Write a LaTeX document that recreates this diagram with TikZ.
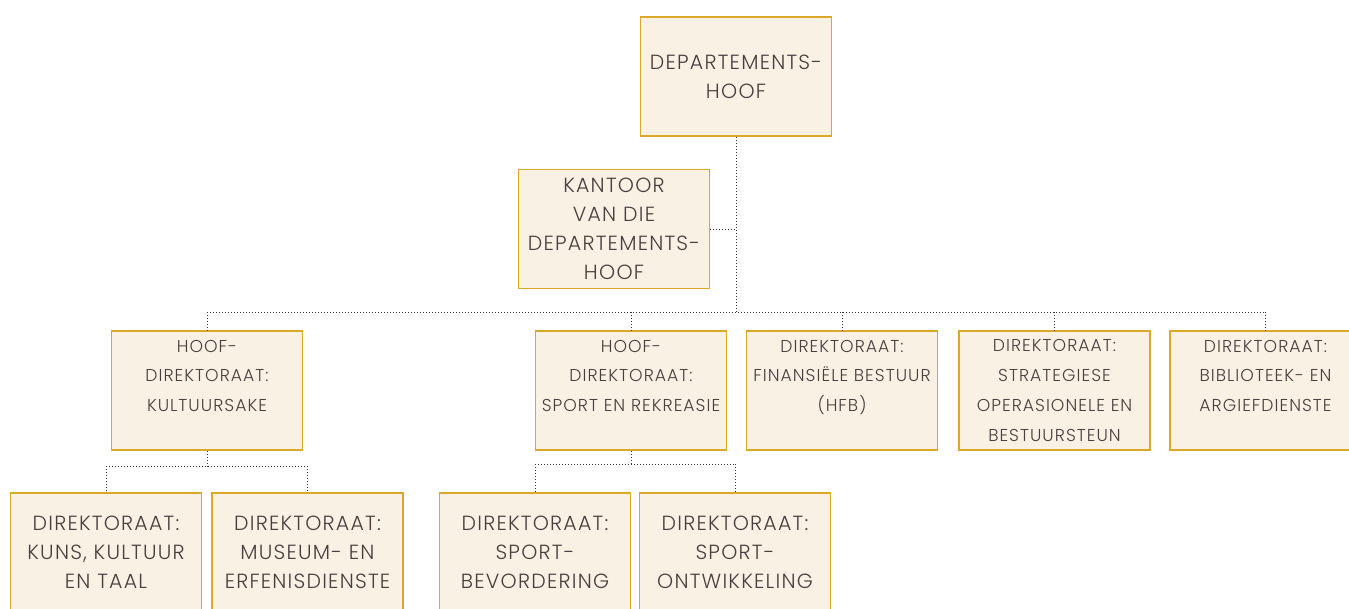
\documentclass[tikz,border=0pt]{standalone}
\usepackage{fontspec}
\setmainfont{Poppins}[UprightFont={* Light}, LetterSpace=6]
\definecolor{boxgold}{RGB}{220,168,40}
\definecolor{boxfill}{RGB}{249,241,227}
\definecolor{boxtext}{RGB}{72,64,64}
\tikzset{
	unit/.style={draw=boxgold, fill=boxfill, line width=1.5pt, text=boxtext, align=center,
		inner sep=0pt, minimum width=191pt, minimum height=119pt},
	bigunit/.style={unit, font=\fontsize{20.5}{29}\selectfont},
	smallunit/.style={unit, font=\fontsize{17.2}{29.7}\selectfont},
	link/.style={draw=black!80, dotted, line width=1pt},
}

\begin{document}
\begin{tikzpicture}[x=1pt, y=-1pt]
		\useasboundingbox (0,0) rectangle (1349,608);

		% Head of department
		\node [bigunit] (head) at (736,76.5) {DEPARTEMENTS-\\HOOF};
		\node [bigunit] (office) at (614,229) {KANTOOR\\VAN DIE\\DEPARTEMENTS-\\HOOF};

		% Chief directorates and directorates
		\node [smallunit] (kultuur) at (207,390.5) {HOOF-\\DIREKTORAAT:\\KULTUURSAKE\\\mbox{}};
		\node [smallunit] (sport) at (631,390.5) {HOOF-\\DIREKTORAAT:\\SPORT EN REKREASIE\\\mbox{}};
		\node [smallunit] (finans) at (842,390.5) {DIREKTORAAT:\\FINANSIËLE BESTUUR\\(HFB)\\\mbox{}};
		\node [smallunit] (strat) at (1054.5,390.5) {DIREKTORAAT:\\STRATEGIESE\\OPERASIONELE EN\\BESTUURSTEUN};
		\node [smallunit] (biblio) at (1265.5,390.5) {DIREKTORAAT:\\BIBLIOTEEK- EN\\ARGIEFDIENSTE\\\mbox{}};

		% Directorates below the chief directorates
		\node [bigunit] (kuns) at (106,552.5) {DIREKTORAAT:\\KUNS, KULTUUR\\EN TAAL};
		\node [bigunit] (museum) at (307.5,552.5) {DIREKTORAAT:\\MUSEUM- EN\\ERFENISDIENSTE};
		\node [bigunit] (bevord) at (535,552.5) {DIREKTORAAT:\\SPORT-\\BEVORDERING};
		\node [bigunit] (ontwik) at (735,552.5) {DIREKTORAAT:\\SPORT-\\ONTWIKKELING};

		% Connectors
		\coordinate (bus) at (736,312);
		\draw [link] (head.south) -- (bus);
		\draw [link] (office.east) -- (office.east -| bus);
		\draw [link] (kultuur.north |- bus) -- (biblio.north |- bus);
		\foreach \unit in {kultuur, sport, finans, strat, biblio}
			\draw [link] (\unit.north |- bus) -- (\unit.north);

		\coordinate (kbus) at (207,466);
		\draw [link] (kultuur.south) -- (kbus);
		\draw [link] (kuns.north |- kbus) -- (museum.north |- kbus);
		\foreach \unit in {kuns, museum}
			\draw [link] (\unit.north |- kbus) -- (\unit.north);

		\coordinate (sbus) at (631,464);
		\draw [link] (sport.south) -- (sbus);
		\draw [link] (bevord.north |- sbus) -- (ontwik.north |- sbus);
		\foreach \unit in {bevord, ontwik}
			\draw [link] (\unit.north |- sbus) -- (\unit.north);

	\end{tikzpicture}
\end{document}
